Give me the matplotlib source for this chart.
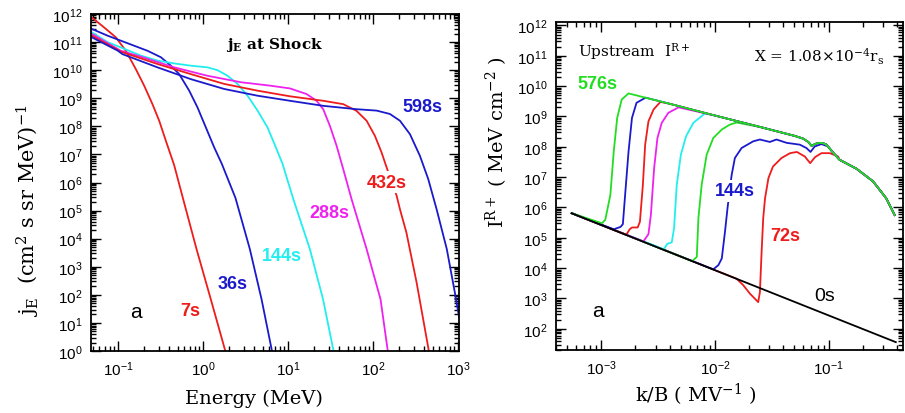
import numpy as np
import matplotlib
matplotlib.use('Agg')
import matplotlib.pyplot as plt
from matplotlib.ticker import LogLocator, FuncFormatter, NullFormatter

# ---------------- data (log10 values) ----------------
# Left panel: j_E at shock vs energy (log10 E [MeV], log10 j)
LOGE_7S = [-1.31, -1.164, -1.027, -0.909, -0.792, -0.694, -0.596, -0.517, -0.439, -0.341, -0.235, -0.078, 0.079, 0.27]
LOGJ_7S = [11.88, 11.52, 11.17, 10.69, 10.04, 9.45, 8.79, 8.20, 7.49, 6.62, 5.41, 3.63, 1.96, -0.1]

LOGE_36S = [-1.31, -1.125, -0.968, -0.811, -0.654, -0.497, -0.38, -0.282, -0.164, -0.066, 0.032, 0.13, 0.22, 0.38, 0.549, 0.687, 0.816]
LOGJ_36S = [11.47, 11.23, 11.05, 10.87, 10.69, 10.46, 10.16, 9.86, 9.27, 8.67, 7.96, 7.25, 6.66, 5.45, 3.63, 1.84, -0.1]

LOGE_144S = [-1.31, -1.125, -0.968, -0.733, -0.537, -0.341, -0.145, 0.051, 0.169, 0.287, 0.405, 0.522, 0.64, 0.757, 0.855, 0.934, 1.06, 1.255, 1.41, 1.54]
LOGJ_144S = [11.35, 11.0, 10.81, 10.52, 10.34, 10.24, 10.16, 10.10, 10.0, 9.80, 9.51, 9.09, 8.56, 7.96, 7.25, 6.66, 5.41, 3.63, 1.84, -0.1]

LOGE_288S = [-1.31, -0.968, -0.733, -0.341, 0.051, 0.444, 0.785, 1.02, 1.216, 1.334, 1.412, 1.49, 1.569, 1.647, 1.745, 1.922, 2.086, 2.176]
LOGJ_288S = [11.29, 10.69, 10.48, 10.10, 9.80, 9.57, 9.45, 9.35, 9.15, 8.91, 8.61, 8.02, 7.31, 6.48, 5.41, 3.63, 1.84, -0.1]

LOGE_432S = [-1.31, -0.968, -0.537, -0.145, 0.248, 0.64, 1.02, 1.412, 1.647, 1.804, 1.922, 2.02, 2.098, 2.157, 2.275, 2.314, 2.39, 2.51, 2.66]
LOGJ_432S = [11.23, 10.66, 10.22, 9.86, 9.51, 9.27, 9.07, 8.91, 8.79, 8.55, 8.20, 7.66, 7.07, 6.54, 5.53, 5.05, 4.22, 2.44, -0.1]

LOGE_598S = [-1.31, -1.007, -0.948, -0.537, -0.145, 0.248, 0.64, 1.02, 1.412, 1.804, 2.04, 2.196, 2.314, 2.432, 2.549, 2.647, 2.745, 2.865, 2.96, 3.01]
LOGJ_598S = [11.17, 10.70, 10.57, 10.10, 9.68, 9.33, 9.09, 8.91, 8.73, 8.61, 8.56, 8.44, 8.20, 7.72, 6.95, 6.12, 5.05, 3.63, 2.08, 1.2]

LEFT_LABELS = ['7s', '36s', '144s', '288s', '432s', '598s']

# Right panel: upstream I^{R+} vs k/B (log10 k/B, log10 I)
BASE_LOGK = [-3.26, -0.41]          # 0s curve
BASE_LOGI = [5.81, 1.56]

ENV_LOGK = [-2.76, -2.40, -2.00, -1.60, -1.30, -1.225, -1.18, -1.15, -1.12, -1.09, -1.05, -1.02,
            -0.96, -0.904, -0.757, -0.61, -0.494, -0.42]
ENV_LOGI = [9.76, 9.42, 9.03, 8.65, 8.36, 8.27, 8.16, 8.03, 8.09, 8.13, 8.12, 8.07,
            7.80, 7.57, 7.28, 6.86, 6.30, 5.75]

RISE_72_K = [-1.81, -1.752, -1.693, -1.62, -1.605, -1.59, -1.576, -1.56, -1.53, -1.49, -1.415, -1.34,
             -1.28, -1.21, -1.163, -1.12, -1.064, -0.99, -0.918]
RISE_72_I = [3.65, 3.44, 3.16, 2.88, 3.21, 4.54, 5.64, 6.30, 6.97, 7.35, 7.63, 7.79,
             7.83, 7.68, 7.46, 7.66, 7.79, 7.79, 7.68]
RISE_144_K = [-2.015, -1.97, -1.94, -1.912, -1.89, -1.87, -1.853, -1.825, -1.766, -1.664, -1.605, -1.518,
              -1.459, -1.37, -1.254, -1.196, -1.16, -1.123, -1.064, -1.006, -0.93]
RISE_144_I = [3.96, 4.10, 4.32, 5.20, 5.97, 6.60, 7.08, 7.63, 7.96, 8.18, 8.24, 8.16,
              8.24, 8.13, 8.07, 7.96, 7.83, 8.01, 8.09, 8.01, 7.68]
RISE_216_K = [-2.20, -2.16, -2.146, -2.117, -2.073, -2.015, -1.94, -1.87, -1.81]
RISE_216_I = [4.23, 4.37, 5.64, 6.75, 7.74, 8.29, 8.57, 8.73, 8.80]
RISE_288_K = [-2.45, -2.42, -2.38, -2.36, -2.336, -2.30, -2.254, -2.19, -2.088]
RISE_288_I = [4.62, 4.80, 4.85, 5.31, 6.75, 7.74, 8.35, 8.79, 9.10]
RISE_360_K = [-2.63, -2.585, -2.564, -2.535, -2.506, -2.468, -2.41, -2.32]
RISE_360_I = [4.88, 5.12, 5.75, 7.30, 8.29, 8.79, 9.12, 9.30]
RISE_432_K = [-2.78, -2.75, -2.73, -2.68, -2.66, -2.634, -2.614, -2.585, -2.54, -2.48]
RISE_432_I = [5.10, 5.28, 5.34, 5.34, 5.53, 6.75, 8.07, 8.84, 9.23, 9.48]
RISE_504_K = [-2.89, -2.83, -2.81, -2.79, -2.76, -2.73, -2.69, -2.61]
RISE_504_I = [5.28, 5.36, 5.45, 6.42, 7.85, 8.95, 9.45, 9.62]
RISE_576_K = [-2.994, -2.965, -2.92, -2.89, -2.86, -2.82, -2.76]
RISE_576_I = [5.48, 5.59, 6.41, 7.85, 8.95, 9.56, 9.76]

RED, BLUE, CYAN, MAG, GREEN = '#ee1c1c', '#1a1acc', '#22eeee', '#ee22ee', '#22dd22'

plt.rcParams['mathtext.default'] = 'regular'
plt.rcParams['font.family'] = 'DejaVu Sans'

fig = plt.figure(figsize=(9.05, 4.14), dpi=100)
ax1 = fig.add_axes([91/905, 1-352/414, (459-91)/905, (352-15)/414])
ax2 = fig.add_axes([556/905, 1-351/414, (903-556)/905, (351-23)/414])

def pw(a):
    return np.power(10.0, np.asarray(a, dtype=float))

def style(ax):
    ax.set_xscale('log'); ax.set_yscale('log')
    for a in (ax.xaxis, ax.yaxis):
        a.set_major_locator(LogLocator(base=10, numticks=30))
        a.set_minor_locator(LogLocator(base=10, subs=np.arange(2, 10), numticks=30))
        a.set_major_formatter(FuncFormatter(lambda v, p: r'$10^{%d}$' % int(round(np.log10(v)))))
        a.set_minor_formatter(NullFormatter())
    ax.tick_params(which='both', direction='in', top=True, right=True, labelsize=11,
                   width=1.0, colors='black')
    ax.tick_params(which='major', length=7, pad=6)
    ax.tick_params(which='minor', length=3.5)
    for s in ax.spines.values():
        s.set_linewidth(1.3)

# ---------------- left panel ----------------
left_series = [(LOGE_7S, LOGJ_7S, RED), (LOGE_36S, LOGJ_36S, BLUE), (LOGE_144S, LOGJ_144S, CYAN),
               (LOGE_288S, LOGJ_288S, MAG), (LOGE_432S, LOGJ_432S, RED), (LOGE_598S, LOGJ_598S, BLUE)]
for le, lj, c in left_series:
    ax1.plot(pw(le), pw(lj), color=c, lw=1.3, zorder=2)
ax1.set_xlim(0.048, 1.02e3)
ax1.set_ylim(1, 1e12)
style(ax1)
for lab in ax1.get_xticklabels() + ax1.get_yticklabels():
    lab.set_family('Liberation Sans')
ax1.set_xlabel('Energy (MeV)', family='DejaVu Serif', fontsize=14)
ax1.xaxis.set_label_coords(0.443, -0.112)
ax1.set_ylabel(r'$j_E$  (cm$^2$ s sr MeV)$^{-1}$', family='DejaVu Serif', fontsize=15)
ax1.yaxis.set_label_coords(-0.133, 0.42)

ax1.text(0.5, 0.911, r'$j_E$ at Shock', transform=ax1.transAxes, ha='center', va='center',
         family='DejaVu Serif', fontweight='bold', fontsize=11)
bkw = dict(ha='center', va='center', family='Liberation Sans', fontweight='bold', fontsize=13,
           transform=ax1.transAxes, zorder=5)
lpos = [(0.269, 0.119), (0.386, 0.199), (0.519, 0.282), (0.649, 0.412), (0.804, 0.501), (0.902, 0.727)]
lcol = [RED, BLUE, CYAN, MAG, RED, BLUE]
for t, (px, py), c in zip(LEFT_LABELS, lpos, lcol):
    kw = dict(bkw)
    if t == '432s':
        kw['bbox'] = dict(facecolor='white', edgecolor='none', pad=1.5)
    ax1.text(px, py, t, color=c, **kw)
ax1.text(0.122, 0.116, 'a', transform=ax1.transAxes, ha='center', va='center',
         family='Liberation Sans', fontsize=15)

# ---------------- right panel ----------------
def build(rk, ri):
    k = [BASE_LOGK[0]] + list(rk) + [x for x in ENV_LOGK if x > rk[-1]]
    i = [BASE_LOGI[0]] + list(ri) + [y for x, y in zip(ENV_LOGK, ENV_LOGI) if x > rk[-1]]
    return pw(k), pw(i)

right_series = [(RISE_72_K, RISE_72_I, RED), (RISE_144_K, RISE_144_I, BLUE),
                (RISE_216_K, RISE_216_I, GREEN), (RISE_288_K, RISE_288_I, CYAN),
                (RISE_360_K, RISE_360_I, MAG), (RISE_432_K, RISE_432_I, RED),
                (RISE_504_K, RISE_504_I, BLUE), (RISE_576_K, RISE_576_I, GREEN)]
for rk, ri, c in right_series:
    k, i = build(rk, ri)
    ax2.plot(k, i, color=c, lw=1.3, zorder=2)
ax2.plot(pw(BASE_LOGK), pw(BASE_LOGI), color='black', lw=1.3, zorder=3)
ax2.set_xlim(4.0e-4, 0.45)
ax2.set_ylim(20, 1.3e12)
style(ax2)
for lab in ax2.get_xticklabels() + ax2.get_yticklabels():
    lab.set_family('Liberation Sans')
ax2.set_xlabel(r'k/B ( MV$^{-1}$ )', family='DejaVu Serif', fontsize=14)
ax2.xaxis.set_label_coords(0.403, -0.095)
ax2.set_ylabel(r'I$^{R+}$ ( MeV cm$^{-2}$ )', family='DejaVu Serif', fontsize=14)
ax2.yaxis.set_label_coords(-0.133, 0.637)

ax2.text(0.063, 0.912, r'Upstream  I$^{R+}$', transform=ax2.transAxes, ha='left', va='center',
         family='DejaVu Serif', fontsize=11)
ax2.text(0.945, 0.896, r'X = 1.08$\times$10$^{-4}$r$_s$', transform=ax2.transAxes, ha='right',
         va='center', family='DejaVu Serif', fontsize=11)
rkw = dict(ha='center', va='center', family='Liberation Sans', fontweight='bold', fontsize=13,
           transform=ax2.transAxes, zorder=5)
ax2.text(0.118, 0.811, '576s', color=GREEN, **rkw)
ax2.text(0.516, 0.485, '144s', color=BLUE, bbox=dict(facecolor='white', edgecolor='none', pad=1.5), **rkw)
ax2.text(0.66, 0.348, '72s', color=RED, **rkw)
ax2.text(0.775, 0.165, '0s', color='black', ha='center', va='center', family='Liberation Sans',
         fontsize=14, transform=ax2.transAxes)
ax2.text(0.121, 0.119, 'a', transform=ax2.transAxes, ha='center', va='center',
         family='Liberation Sans', fontsize=15)

fig.savefig('out.png', dpi=100)
